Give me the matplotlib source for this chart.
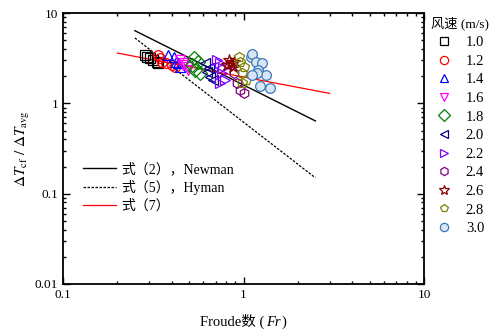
import matplotlib
matplotlib.use("Agg")
import matplotlib.pyplot as plt
import numpy as np
from matplotlib.ticker import LogLocator, NullFormatter
from matplotlib.offsetbox import TextArea, HPacker, AnchoredOffsetbox

plt.rcParams['font.family'] = ['Liberation Serif', 'Noto Sans CJK SC']
plt.rcParams['mathtext.fontset'] = 'stix'

# wind speed groups (m/s) and measured points
speeds = ['1.0', '1.2', '1.4', '1.6', '1.8', '2.0', '2.2', '2.4', '2.6', '2.8', '3.0']
fr_data = [
    [0.285, 0.293, 0.304, 0.315, 0.33, 0.335],
    [0.335, 0.346, 0.355, 0.373, 0.40, 0.419],
    [0.38, 0.41, 0.42, 0.435, 0.447],
    [0.447, 0.46, 0.47, 0.49, 0.495],
    [0.52, 0.53, 0.54, 0.56, 0.577],
    [0.615, 0.63, 0.64, 0.656, 0.68],
    [0.71, 0.745, 0.77, 0.76, 0.794, 0.745],
    [0.87, 0.88, 0.92, 0.96, 1.0],
    [0.81, 0.83, 0.85, 0.87, 0.88],
    [0.94, 0.96, 1.0, 0.98, 1.03, 0.98],
    [1.094, 1.11, 1.166, 1.27, 1.2, 1.325, 1.18, 1.24, 1.41, 1.12],
]
dt_data = [
    [3.44, 3.3, 3.2, 3.03, 2.9, 2.8],
    [3.44, 3.2, 2.9, 2.8, 2.67, 2.55],
    [3.4, 3.3, 2.9, 2.8, 2.55],
    [3.03, 2.67, 2.8, 2.55, 2.35],
    [2.67, 3.2, 2.35, 2.9, 2.2],
    [2.8, 2.25, 2.45, 1.95, 1.82],
    [3.03, 2.8, 2.45, 2.2, 1.82, 1.7],
    [2.8, 2.2, 1.7, 1.41, 1.3],
    [2.67, 3.03, 2.8, 2.55, 2.9],
    [3.3, 2.9, 2.55, 2.2, 1.82, 1.7],
    [3.27, 3.5, 2.9, 2.8, 2.35, 2.07, 2.2, 1.55, 1.48, 2.07],
]
markers = ['s', 'o', '^', 'v', 'D', '<', '>', 'h', '*', 'p', 'o']
colors = ['black', 'red', 'blue', 'magenta', 'green', 'navy', '#8000ff',
          'purple', 'darkred', 'olive', '#3a78b8']

# fitted relations
fr_newman = [0.25, 2.5]
fr_hyman = [0.25, 2.5]
fr_eq7 = [0.2, 3.0]
c_newman, k_newman = 1.6, -1.0
c_hyman, k_hyman = 0.62, -1.55
c_eq7, k_eq7 = 1.96, -0.38

fig = plt.figure(figsize=(4.94, 3.29), dpi=100)
ax = fig.add_axes([0.1275, 0.137, 0.731, 0.823])

f1 = np.array(fr_newman)
f2 = np.array(fr_hyman)
f3 = np.array(fr_eq7)
l1, = ax.plot(f1, c_newman * f1 ** k_newman, color='black', lw=1.0,
              label='式（2），Newman')
l2, = ax.plot(f2, c_hyman * f2 ** k_hyman, color='black', lw=0.9,
              ls=(0, (2, 1.2)), label='式（5），Hyman')
l3, = ax.plot(f3, c_eq7 * f3 ** k_eq7, color='red', lw=0.9,
              label='式（7）')

pts = []
for i in range(len(speeds)):
    ms = 9 if markers[i] == '*' else 7
    fc = '#d8e6f4' if i == 10 else 'none'
    p, = ax.plot(fr_data[i], dt_data[i], ls='none', marker=markers[i],
                 ms=ms, mfc=fc, mec=colors[i], mew=0.9, label=speeds[i])
    pts.append(p)

ax.set_xscale('log')
ax.set_yscale('log')
ax.set_xlim(0.1, 10)
ax.set_ylim(0.01, 10)
ax.set_xticks([0.1, 1, 10])
ax.set_xticklabels(['0.1', '1', '10'])
ax.set_yticks([0.01, 0.1, 1, 10])
ax.set_yticklabels(['0.01', '0.1', '1', '10'])
ax.xaxis.set_minor_locator(LogLocator(base=10, subs=np.arange(2, 10)))
ax.yaxis.set_minor_locator(LogLocator(base=10, subs=np.arange(2, 10)))
ax.xaxis.set_minor_formatter(NullFormatter())
ax.yaxis.set_minor_formatter(NullFormatter())
ax.tick_params(which='both', direction='in', top=True, right=True,
               labelsize=9.5, width=1.0)
ax.tick_params(which='major', length=5)
ax.tick_params(which='minor', length=2.5)
for s in ax.spines.values():
    s.set_linewidth(1.3)

# x label: mixed CJK and italic Fr, packed side by side
fam = ['Liberation Serif', 'Noto Sans CJK SC']
t1 = TextArea('Froude数 (', textprops=dict(fontsize=10.5, family=fam))
t2 = TextArea('Fr', textprops=dict(fontsize=10.5, family=fam, style='italic'))
t3 = TextArea(')', textprops=dict(fontsize=10.5, family=fam))
xbox = HPacker(children=[t1, t2, t3], align='baseline', pad=0, sep=1)
xlab = AnchoredOffsetbox(loc='upper center', child=xbox, pad=0, borderpad=0,
                         frameon=False, bbox_to_anchor=(0.5, -0.11),
                         bbox_transform=ax.transAxes)
ax.add_artist(xlab)

ax.set_ylabel('$\\mathit{\\Delta T}_{\\rm cf}\\ /\\ \\mathit{\\Delta T}_{\\rm avg}$',
              fontsize=11, labelpad=2)

leg1 = ax.legend(handles=[l1, l2, l3], loc='upper left',
                 bbox_to_anchor=(0.02, 0.495), frameon=False, fontsize=10,
                 handlelength=2.4, handletextpad=0.4, labelspacing=0.3)
ax.add_artist(leg1)

leg2 = ax.legend(handles=pts, loc='upper left', bbox_to_anchor=(0.982, 1.035),
                 frameon=False, fontsize=10.5, title='风速 (m/s)',
                 title_fontsize=9.5, handlelength=1.2, handletextpad=0.9,
                 labelspacing=0.37, markerscale=0.85)

fig.savefig('out.png', dpi=100)
